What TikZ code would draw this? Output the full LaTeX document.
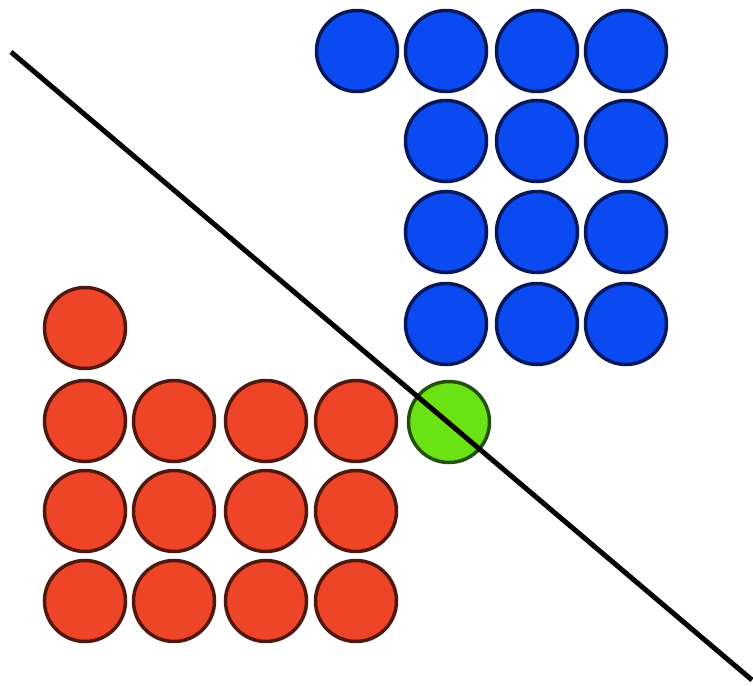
\documentclass[tikz,border=0pt]{standalone}
\definecolor{bfill}{RGB}{10,74,240}
\definecolor{bline}{RGB}{8,25,90}
\definecolor{rfill}{RGB}{238,68,40}
\definecolor{rline}{RGB}{80,25,15}
\definecolor{gfill}{RGB}{106,226,20}
\definecolor{gline}{RGB}{35,80,10}
\tikzset{
  dot/.style={circle, inner sep=0pt, minimum size=81pt, line width=3.5pt},
  bdot/.style={dot, fill=bfill, draw=bline},
  rdot/.style={dot, fill=rfill, draw=rline},
  gdot/.style={dot, fill=gfill, draw=gline},
  cut/.style={line width=5pt, line cap=butt}
}
\begin{document}
\begin{tikzpicture}[x=1pt,y=-1pt]
\useasboundingbox (0,0) rectangle (753,686);
% blue
\node[bdot] (b00) at (357,51) {};
\node[bdot] (b01) at (446,51) {};
\node[bdot] (b02) at (537,51) {};
\node[bdot] (b03) at (626,51) {};
\node[bdot] (b11) at (446,141) {};
\node[bdot] (b12) at (537,141) {};
\node[bdot] (b13) at (626,141) {};
\node[bdot] (b21) at (446,232) {};
\node[bdot] (b22) at (537,232) {};
\node[bdot] (b23) at (626,232) {};
\node[bdot] (b31) at (446,324) {};
\node[bdot] (b32) at (537,324) {};
\node[bdot] (b33) at (626,324) {};
% red
\node[rdot] (r00) at (85,328) {};
\node[rdot] (r10) at (85,421) {};
\node[rdot] (r11) at (174,421) {};
\node[rdot] (r12) at (266,421) {};
\node[rdot] (r13) at (356,421) {};
\node[rdot] (r20) at (85,511) {};
\node[rdot] (r21) at (174,511) {};
\node[rdot] (r22) at (266,511) {};
\node[rdot] (r23) at (356,511) {};
\node[rdot] (r30) at (85,601) {};
\node[rdot] (r31) at (174,601) {};
\node[rdot] (r32) at (266,601) {};
\node[rdot] (r33) at (356,601) {};
% green
\node[gdot] (g) at (449,422) {};
% separating line
\coordinate (ls) at (11,52);
\coordinate (le) at (752,680);
\draw[cut] (ls) -- (le);
\end{tikzpicture}
\end{document}
